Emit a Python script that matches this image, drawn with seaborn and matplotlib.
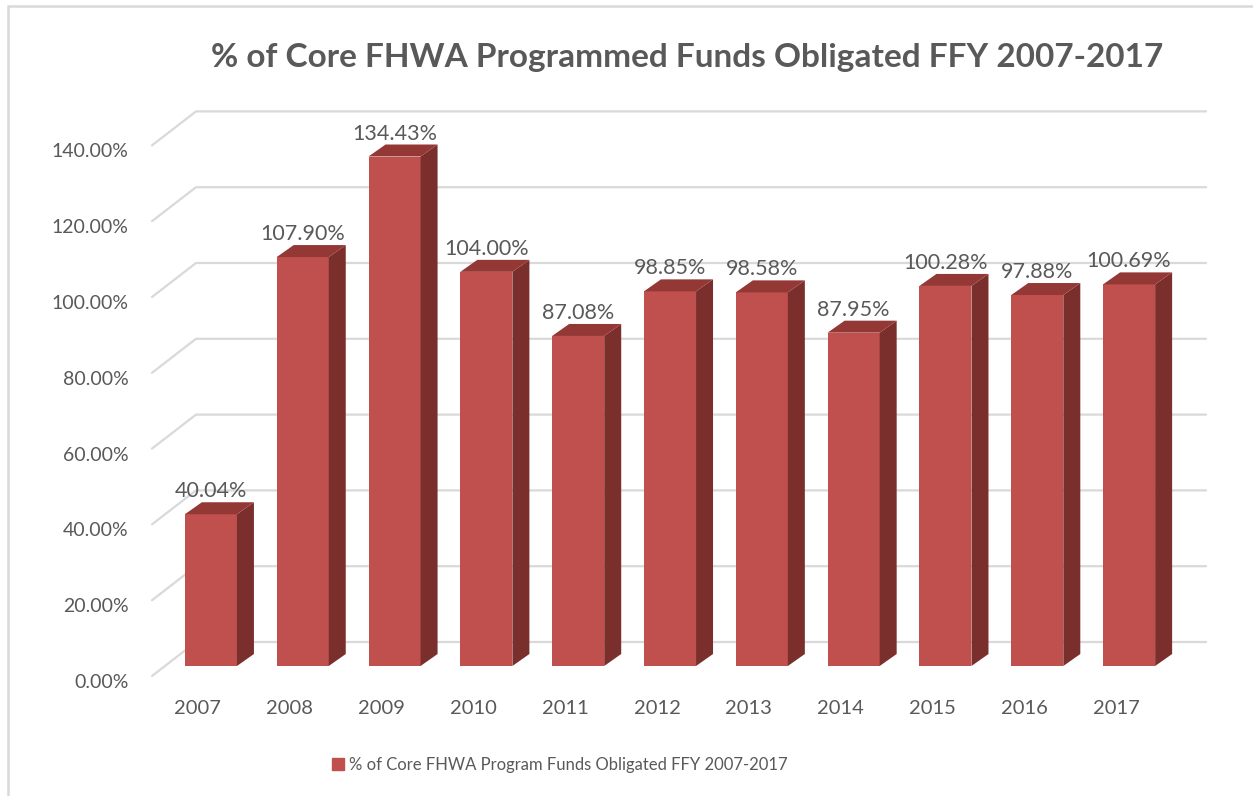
import pandas as pd
import matplotlib
matplotlib.use('Agg')
from matplotlib import pyplot as plt
from matplotlib.patches import Polygon, Rectangle, Patch
from matplotlib.lines import Line2D
from matplotlib.transforms import ScaledTranslation, IdentityTransform
import seaborn as sns

# data
years = ['2007', '2008', '2009', '2010', '2011', '2012', '2013', '2014', '2015', '2016', '2017']
pct = [40.04, 107.90, 134.43, 104.00, 87.08, 98.85, 98.58, 87.95, 100.28, 97.88, 100.69]
y_ticks = [0, 20, 40, 60, 80, 100, 120, 140]
y_labels = ['0.00%', '20.00%', '40.00%', '60.00%', '80.00%', '100.00%', '120.00%', '140.00%']
series_name = '% of Core FHWA Program Funds Obligated FFY 2007-2017'
title = '% of Core FHWA Programmed Funds Obligated FFY 2007-2017'

red_front = '#C0504D'
red_side = '#7B2F2D'
red_top = '#943836'
grid_col = '#D9D9D9'
txt_col = '#595959'

sns.set_theme(style='white')
plt.rcParams['font.family'] = ['Lato', 'DejaVu Sans']

fig = plt.figure(figsize=(12.53, 7.96), dpi=100)
ax = fig.add_axes([165 / 1253, 130 / 796, 1010 / 1253, 530.6 / 796])

df = pd.DataFrame({'year': years, 'pct': pct})
sns.barplot(data=df, x='year', y='pct', color=red_front, saturation=1,
            width=0.567, ax=ax, zorder=3)
ax.set_xlim(-0.5, len(years) - 0.5)
ax.set_ylim(0, 140)
ax.set_xlabel('')
ax.set_ylabel('')
sns.despine(ax=ax, left=True, bottom=True)


def px(dx, dy):
    return ScaledTranslation(dx / 100, dy / 100, fig.dpi_scale_trans)


def disp(x, y, dx=0, dy=0):
    p = ax.transData.transform((x, y))
    return (p[0] + dx, p[1] + dy)


# depth offsets in pixels (matplotlib display, y up)
bar_d = (17, 12)
front_d = (-13, -10)
back_d = (31, 24)

# perspective gridlines: front edge -> back wall
x_lo, x_hi = ax.get_xlim()
for v in y_ticks:
    a = disp(x_lo, v, *front_d)
    b = disp(x_lo, v, *back_d)
    c = disp(x_hi, v, *back_d)
    ax.add_line(Line2D([a[0], b[0], c[0]], [a[1], b[1], c[1]], color=grid_col,
                       lw=1.6, transform=IdentityTransform(), zorder=1, clip_on=False))

# side and top faces of each bar
for p, v in zip(ax.patches, pct):
    x0, w, h = p.get_x(), p.get_width(), p.get_height()
    p.set_edgecolor('none')
    side = [disp(x0 + w, 0), disp(x0 + w, h), disp(x0 + w, h, *bar_d), disp(x0 + w, 0, *bar_d)]
    top = [disp(x0, h), disp(x0 + w, h), disp(x0 + w, h, *bar_d), disp(x0, h, *bar_d)]
    ax.add_patch(Polygon(side, closed=True, fc=red_side, ec='none',
                         transform=IdentityTransform(), zorder=4, clip_on=False))
    ax.add_patch(Polygon(top, closed=True, fc=red_top, ec='none',
                         transform=IdentityTransform(), zorder=4, clip_on=False))
    ax.text(x0 + w / 2, h, f'{v:.2f}%', ha='center', va='baseline', fontsize=15.5,
            color=txt_col, transform=ax.transData + px(0, 17), zorder=5)

# ticks sit on the front plane
ax.set_yticks(y_ticks, labels=y_labels)
ax.tick_params(axis='y', length=0, pad=17, labelsize=14, labelcolor=txt_col)
ax.tick_params(axis='x', length=0, pad=17, labelsize=14.5, labelcolor=txt_col)
for lab in ax.get_yticklabels():
    lab.set_transform(lab.get_transform() + px(-13, -15))
for lab in ax.get_xticklabels():
    lab.set_transform(lab.get_transform() + px(*front_d))

fig.text(687 / 1253, 1 - 57 / 796, title, ha='center', va='center',
         fontsize=24, fontweight='bold', color=txt_col)

fig.legend(handles=[Patch(color=red_front)], labels=[series_name], loc='center',
           bbox_to_anchor=(560 / 1253, 1 - 765 / 796), frameon=False, fontsize=12,
           labelcolor=txt_col, handlelength=0.7, handleheight=0.7, handletextpad=0.3)

# chart area border (left and top visible)
fig.add_artist(Rectangle((8 / 1253, -0.1), 1.2, (796 - 6) / 796 + 0.1,
                         transform=fig.transFigure, fill=False, ec=grid_col, lw=1.8))

fig.savefig('out.png', dpi=100)
